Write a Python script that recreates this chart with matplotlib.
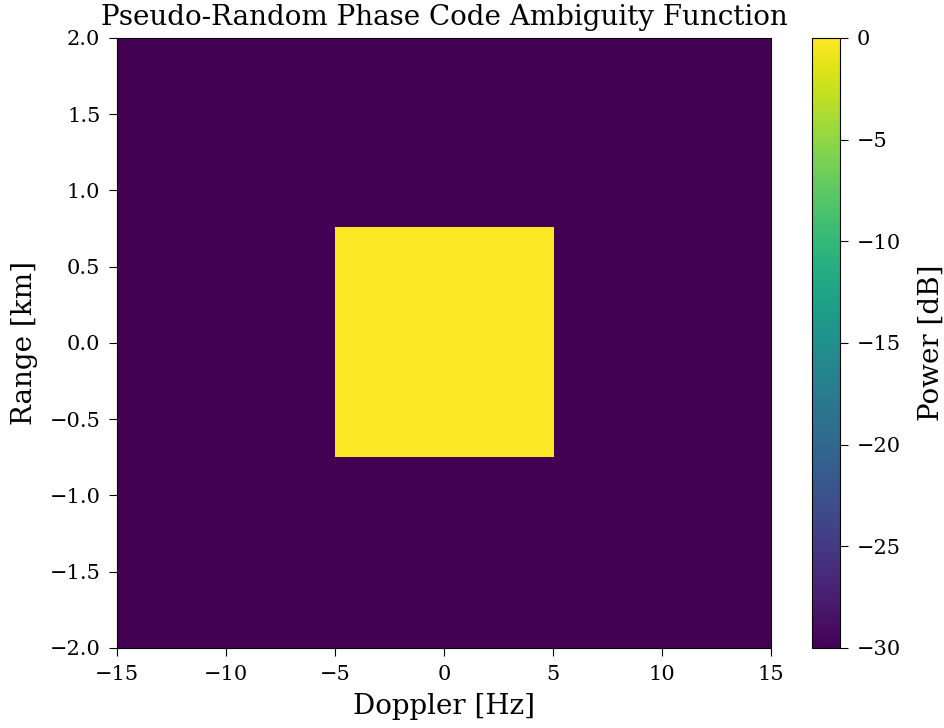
import numpy as np
import matplotlib.pyplot as plt

plt.rcParams['font.family'] = 'DejaVu Serif'

# bin edges and power (dB) per cell
doppler_edges = [-15, -5, 5.05, 15]
range_edges = [-2.0, -0.75, 0.76, 2.0]
power_db = [[-30, -30, -30],
            [-30, 0, -30],
            [-30, -30, -30]]

fig = plt.figure(figsize=(9.44, 7.28), dpi=100)
ax = fig.add_axes([0.124, 0.110, 0.693, 0.838])
cax = fig.add_axes([0.860, 0.110, 0.030, 0.838])

mesh = ax.pcolormesh(doppler_edges, range_edges, np.array(power_db),
                     cmap='viridis', vmin=-30, vmax=0)
ax.set_xlim(-15, 15)
ax.set_ylim(-2, 2)
ax.set_xlabel('Doppler [Hz]', fontsize=20, labelpad=7)
ax.set_ylabel('Range [km]', fontsize=20, labelpad=8)
ax.set_title('Pseudo-Random Phase Code Ambiguity Function', fontsize=20, pad=9)
ax.tick_params(labelsize=15, length=6, pad=6)

cb = fig.colorbar(mesh, cax=cax)
cb.set_label('Power [dB]', fontsize=20, labelpad=12)
cb.ax.tick_params(labelsize=15, length=6, pad=6)

fig.savefig('out.png', dpi=100)
